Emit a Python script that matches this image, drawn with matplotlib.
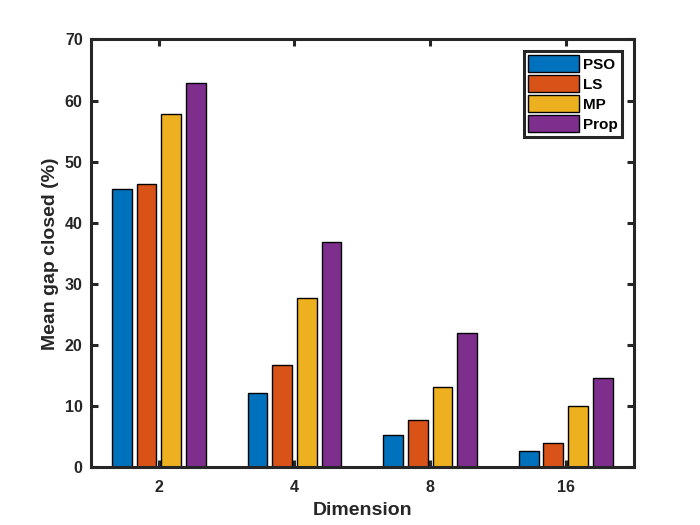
import matplotlib
matplotlib.use('Agg')
import matplotlib.pyplot as plt
import numpy as np

plt.rcParams['font.family'] = ['Liberation Sans', 'DejaVu Sans']
plt.rcParams['font.weight'] = 'bold'

# data
dims = ['2', '4', '8', '16']
methods = ['PSO', 'LS', 'MP', 'Prop']
pso = [45.6, 12.1, 5.2, 2.7]
ls = [46.4, 16.7, 7.8, 3.9]
mp = [57.8, 27.7, 13.1, 10.0]
prop = [62.9, 36.9, 22.0, 14.6]
colors = ['#0072BD', '#D95319', '#EDB120', '#7E2F8E']

AX_COL = '#262626'

fig = plt.figure(figsize=(7, 5.25), dpi=100)
ax = fig.add_axes([0.13, 0.11, 0.775, 0.815])

x = np.arange(1, len(dims) + 1)
group_w = min(0.8, 4 / (4 + 1.5))
pitch = group_w / 4
bar_w = pitch * 0.8
series = [pso, ls, mp, prop]
for i, (vals, name, col) in enumerate(zip(series, methods, colors)):
    offs = (i - 1.5) * pitch
    ax.bar(x + offs, vals, bar_w, color=col, edgecolor='black',
           linewidth=1.0, label=name, zorder=2)

ax.set_xlim(0.5, 4.5)
ax.set_ylim(0, 70)
ax.set_xticks(x)
ax.set_xticklabels(dims)
ax.set_yticks(np.arange(0, 71, 10))

for sp in ax.spines.values():
    sp.set_linewidth(2.2)
    sp.set_color(AX_COL)
ax.tick_params(direction='in', length=5, width=2.2, color=AX_COL,
               labelcolor=AX_COL, labelsize=11.5, top=True, right=True)
ax.tick_params(axis='x', pad=9)
ax.tick_params(axis='y', pad=6)
for lab in ax.get_xticklabels() + ax.get_yticklabels():
    lab.set_fontweight('bold')

ax.set_xlabel('Dimension', fontsize=14, fontweight='bold', color=AX_COL, labelpad=5)
ax.set_ylabel('Mean gap closed (%)', fontsize=14, fontweight='bold', color=AX_COL, labelpad=4)

leg = ax.legend(loc='upper right', fontsize=11, frameon=True, fancybox=False,
                framealpha=1.0, handlelength=3.3, handleheight=1.3,
                handletextpad=0.25, labelspacing=0.22, borderpad=0.3,
                borderaxespad=0.75, edgecolor=AX_COL)
leg.get_frame().set_linewidth(2.2)
for t in leg.get_texts():
    t.set_fontweight('bold')
    t.set_color('black')

fig.savefig('out.png', dpi=100)
